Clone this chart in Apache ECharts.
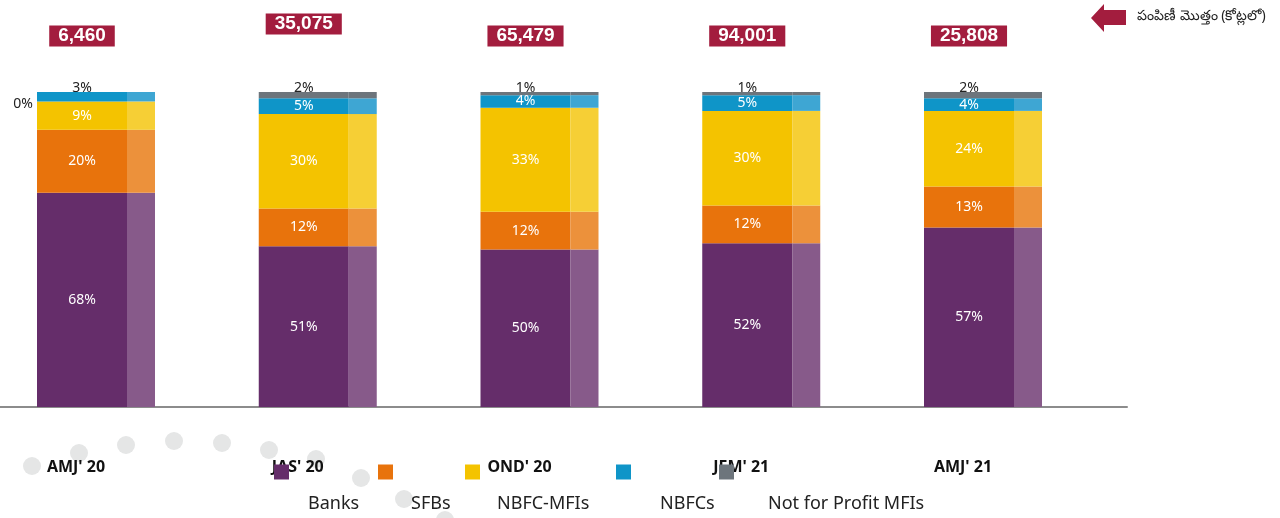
<!DOCTYPE html>
<html>
<head>
<meta charset="utf-8">
<script src="https://cdn.jsdelivr.net/npm/echarts@6/dist/echarts.min.js"></script>
<style>
  html, body { margin: 0; padding: 0; background: #fff; }
  #chart { width: 1280px; height: 518px; }
</style>
</head>
<body>
<div id="chart"></div>
<script>
  // quarters and disbursement totals (crore)
  const quarters = ["AMJ' 20", "JAS' 20", "OND' 20", "JFM' 21", "AMJ' 21"]
  const totals = [6460, 35075, 65479, 94001, 25808]

  // share of disbursement, %
  const banks = [68, 51, 50, 52, 57]
  const sfbs = [20, 12, 12, 12, 13]
  const nbfcMfis = [9, 30, 33, 30, 24]
  const nbfcs = [3, 5, 4, 5, 4]
  const npo = [0, 2, 1, 1, 2]

  const seriesNames = ['Banks', 'SFBs', 'NBFC-MFIs', 'NBFCs', 'Not for Profit MFIs']
  const seriesData = [banks, sfbs, nbfcMfis, nbfcs, npo]

  const COLORS = ['#652d6a', '#e8730c', '#f4c300', '#0f95c8', '#6d757c']
  const COLORS_LIGHT = ['#875a8a', '#ec913b', '#f6cf35', '#3ea6d3', '#6d757c']
  const RED = '#a31d3e'
  const FONT = "'Noto Sans', 'Open Sans', sans-serif"

  // legend placement (swatch left, text shift)
  const LEGEND_X = [274, 378, 465, 616, 719]
  const LEGEND_TEXT_SHIFT = [14, 13, 12, 24, 29]

  // decorative dots below the axis
  const DOTS = [[32, 466], [79, 453], [126, 445], [174, 441], [222, 443], [269, 450],
    [316, 459], [361, 478], [404, 499], [445, 520]]

  function segLabel(idx, i, v) {
    let base = {show: true, position: 'inside', color: '#fff', fontSize: 14, fontFamily: FONT, formatter: '{c}%'}
    if (idx === 3 && npo[i] === 0) {
      return Object.assign(base, {position: 'top', color: '#222', distance: -3})
    }
    if (idx === 4) {
      if (v === 0) return Object.assign(base, {position: 'left', color: '#222', distance: 4, offset: [0, 12]})
      return Object.assign(base, {position: 'top', color: '#222', distance: -3})
    }
    return base
  }

  let series = []
  seriesData.forEach((arr, idx) => {
    series.push({
      name: seriesNames[idx],
      type: 'bar',
      stack: 'main',
      barWidth: 90,
      barGap: '0%',
      color: COLORS[idx],
      data: arr.map((v, i) => ({value: v, label: segLabel(idx, i, v)}))
    })
  })
  seriesData.forEach((arr, idx) => {
    series.push({
      name: seriesNames[idx] + ' side',
      type: 'bar',
      stack: 'side',
      barWidth: 28,
      barGap: '0%',
      silent: true,
      color: COLORS_LIGHT[idx],
      data: arr
    })
  })

  let legends = seriesNames.map((name, idx) => ({
    data: [name],
    left: LEGEND_X[idx],
    top: 408,
    padding: 0,
    icon: 'rect',
    itemWidth: 15,
    itemHeight: 15,
    selectedMode: false,
    formatter: n => '\n' + n,
    textStyle: {
      fontSize: 18,
      fontFamily: FONT,
      color: '#222',
      lineHeight: 64,
      padding: [0, 0, 0, LEGEND_TEXT_SHIFT[idx]]
    }
  }))

  let graphics = DOTS.map(p => ({
    type: 'circle',
    z: -1,
    shape: {cx: p[0], cy: p[1], r: 9},
    style: {fill: '#e5e6e6'}
  }))
  graphics.push({
    type: 'polygon',
    shape: {points: [[1091, 18], [1104, 4], [1104, 10], [1126, 10], [1126, 25], [1104, 25], [1104, 32]]},
    style: {fill: RED}
  })
  graphics.push({
    type: 'text',
    left: 1137,
    top: 9,
    style: {text: 'పంపిణీ మొత్తం (కోట్లలో)', fontSize: 14, fontFamily: FONT, fill: '#222'}
  })

  let myChart = echarts.init(document.getElementById('chart'))
  myChart.setOption({
    animation: false,
    grid: [
      {left: 96, right: 297, top: 92, bottom: 111},
      {left: 0, right: 153, top: 92, bottom: 111}
    ],
    legend: legends,
    xAxis: [
      {
        type: 'category',
        gridIndex: 0,
        boundaryGap: false,
        data: quarters,
        axisLine: {show: false},
        axisTick: {show: false},
        axisLabel: {
          margin: 52,
          fontSize: 16,
          fontWeight: 'bold',
          fontFamily: FONT,
          color: '#111',
          padding: [0, 40, 0, 0]
        }
      },
      {
        type: 'category',
        gridIndex: 0,
        position: 'top',
        boundaryGap: false,
        data: totals.map(v => v.toLocaleString('en-US')),
        axisLine: {show: false},
        axisTick: {show: false},
        axisLabel: {
          margin: 45,
          padding: [0, 28, 0, 0],
          formatter: function (val, i) {
            return i === 1 ? '{box|' + val + '}\n{sp| }' : '{box|' + val + '}'
          },
          rich: {
            box: {
              backgroundColor: RED,
              color: '#fff',
              fontSize: 19,
              fontWeight: 'bold',
              fontFamily: "'Liberation Sans', Arial, sans-serif",
              lineHeight: 22,
              padding: [1, 9, 1, 9]
            },
            sp: {fontSize: 1, height: 12, lineHeight: 12}
          }
        }
      },
      {
        type: 'value',
        gridIndex: 1,
        min: 0,
        max: 1,
        axisLine: {show: true, lineStyle: {color: '#8c8c8c', width: 2}},
        axisTick: {show: false},
        axisLabel: {show: false},
        splitLine: {show: false}
      }
    ],
    yAxis: [
      {type: 'value', gridIndex: 0, min: 0, max: 100, show: false},
      {type: 'value', gridIndex: 1, min: 0, max: 1, show: false}
    ],
    graphic: graphics,
    series: series
  })
</script>
</body>
</html>
